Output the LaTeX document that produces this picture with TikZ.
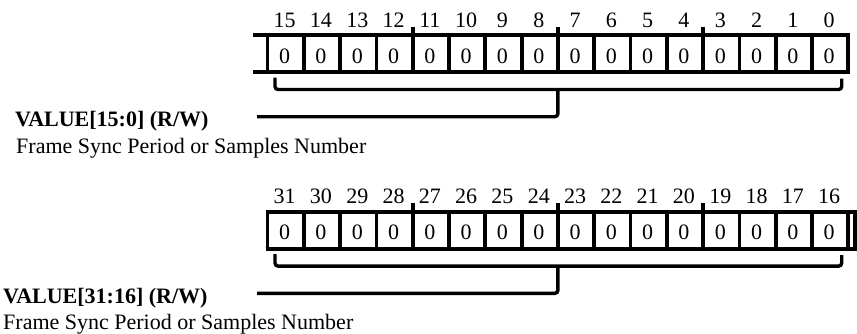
\documentclass[tikz,border=0pt]{standalone}
\usepackage{fontspec}
\setmainfont{Liberation Serif}
\begin{document}
\begin{tikzpicture}[x=1pt,y=-1pt,
  regline/.style={line width=3.8pt},
  brk/.style={line width=3.4pt, rounded corners=3pt},
  txt/.style={font=\fontsize{22}{26}\selectfont, inner sep=0pt},
  lbl/.style={txt, font=\fontsize{22}{26}\selectfont\bfseries, anchor=base west},
  dsc/.style={txt, anchor=base west}]
\useasboundingbox (0,0) rectangle (857,333);
\def\xL{267.5}
\def\w{36.3}
% ---------- two registers ----------
\foreach \r/\dy/\lo in {A/0/0, B/176.6/16} {
  \pgfmathsetmacro\yT{35.3+\dy}
  \pgfmathsetmacro\yB{72.3+\dy}
  \pgfmathsetmacro\yN{27+\dy}
  \pgfmathsetmacro\yC{63.3+\dy}
  \pgfmathsetmacro\yK{26.7+\dy}
  \foreach \i in {0,...,15} {
    \pgfmathtruncatemacro\b{\lo+15-\i}
    \pgfmathsetmacro\cx{\xL+\w*(\i+0.5)}
    \node[txt, anchor=base] (n\b) at (\cx-1,\yN) {\b};
    \node[txt, anchor=base] (c\b) at (\cx-1,\yC) {0};
  }
  \foreach \k in {0,...,16} {
    \pgfmathsetmacro\bx{\xL+\w*\k}
    \draw[regline] (\bx,\yT-1.9) -- (\bx,\yB+1.9);
  }
  \foreach \k in {4,8,12} {
    \pgfmathsetmacro\bx{\xL+\w*\k}
    \draw[regline] (\bx,\yK) -- (\bx,\yT);
  }
}
% horizontal rails
\draw[regline] (253,35.3) -- (850.2,35.3);
\draw[regline] (253,72.3) -- (850.2,72.3);
\draw[regline] (265.6,211.9) -- (857,211.9);
\draw[regline] (265.6,248.9) -- (857,248.9);
\draw[regline] (855,210.0) -- (855,250.8);
% ---------- brackets and leads ----------
\coordinate (endA) at (257,116.7);
\coordinate (endB) at (257,293.3);
\draw[brk] (275,77.5) -- (275,89.5) -- (841.7,89.5) -- (841.7,78.5);
\draw[brk] (557.9,89.5) -- (557.9,116.7) -- (endA);
\draw[brk] (275,254.1) -- (275,266.1) -- (841.7,266.1) -- (841.7,255.1);
\draw[brk] (557.9,266.1) -- (557.9,293.3) -- (endB);
% ---------- labels ----------
\node[lbl] (lblA) at (15,126.7) {VALUE[15:0] (R/W)};
\node[dsc] (dscA) at (16,153.3) {Frame Sync Period or Samples Number};
\node[lbl] (lblB) at (3,303.3) {VALUE[31:16] (R/W)};
\node[dsc] (dscB) at (3,329.9) {Frame Sync Period or Samples Number};
\end{tikzpicture}
\end{document}
